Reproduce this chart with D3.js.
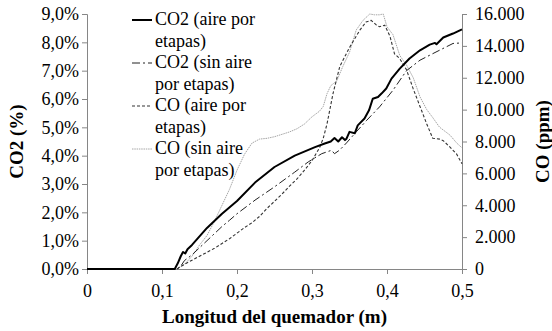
<!DOCTYPE html>
<html>
<head>
<meta charset="utf-8">
<script src="https://cdn.jsdelivr.net/npm/d3@7"></script>
<style>
  html, body { margin: 0; padding: 0; background: #fff; }
  svg { display: block; }
  svg text { font-family: "Liberation Serif", Tinos, "Nimbus Roman", "Times New Roman", Times, "DejaVu Serif", serif !important; fill: #000; }
</style>
</head>
<body>
<svg id="chart" width="552" height="331"></svg>
<script>
// ---------- data ----------
const xTicks = [0, 0.1, 0.2, 0.3, 0.4, 0.5];
const xTickLabels = ["0", "0,1", "0,2", "0,3", "0,4", "0,5"];
const leftTicks = [0, 1, 2, 3, 4, 5, 6, 7, 8, 9];
const leftTickLabels = ["0,0%", "1,0%", "2,0%", "3,0%", "4,0%", "5,0%", "6,0%", "7,0%", "8,0%", "9,0%"];
const rightTicks = [0, 2000, 4000, 6000, 8000, 10000, 12000, 14000, 16000];
const rightTickLabels = ["0", "2.000", "4.000", "6.000", "8.000", "10.000", "12.000", "14.000", "16.000"];

const seriesNames = ["CO2 (aire por etapas)", "CO2 (sin aire por etapas)", "CO (aire por etapas)", "CO (sin aire por etapas)"];

// CO2 (aire por etapas) — % (left axis)
const co2AireX = [0, 0.117, 0.121, 0.125, 0.128, 0.131, 0.134, 0.14, 0.15, 0.16, 0.18, 0.2, 0.224, 0.25, 0.277, 0.304, 0.317, 0.325, 0.33, 0.335, 0.34, 0.344, 0.346, 0.35, 0.357, 0.361, 0.37, 0.376, 0.381, 0.388, 0.393, 0.399, 0.406, 0.417, 0.43, 0.444, 0.457, 0.464, 0.466, 0.475, 0.488, 0.5];
const co2AireY = [0, 0, 0.2, 0.45, 0.6, 0.55, 0.7, 0.85, 1.15, 1.45, 1.95, 2.4, 3.05, 3.6, 4.0, 4.3, 4.43, 4.5, 4.62, 4.5, 4.65, 4.55, 4.6, 4.84, 4.79, 5.07, 5.31, 5.6, 6.01, 6.07, 6.2, 6.37, 6.72, 7.07, 7.43, 7.72, 7.92, 7.98, 7.93, 8.17, 8.31, 8.46];

// CO2 (sin aire por etapas) — % (left axis)
const co2SinX = [0, 0.12, 0.125, 0.13, 0.14, 0.15, 0.16, 0.17, 0.18, 0.19, 0.2, 0.224, 0.25, 0.277, 0.295, 0.313, 0.326, 0.33, 0.337, 0.346, 0.359, 0.373, 0.39, 0.408, 0.426, 0.444, 0.461, 0.479, 0.488, 0.5];
const co2SinY = [0, 0, 0.1, 0.3, 0.5, 0.75, 1.0, 1.25, 1.5, 1.72, 1.95, 2.43, 2.9, 3.42, 3.78, 4.07, 4.19, 4.07, 4.2, 4.45, 4.84, 5.25, 5.72, 6.31, 7.0, 7.37, 7.6, 7.84, 7.96, 7.98];

// CO (aire por etapas) — ppm (right axis)
const coAireX = [0, 0.12, 0.125, 0.13, 0.14, 0.15, 0.16, 0.17, 0.18, 0.19, 0.2, 0.21, 0.22, 0.23, 0.24, 0.25, 0.26, 0.27, 0.28, 0.29, 0.3, 0.305, 0.31, 0.315, 0.32, 0.328, 0.337, 0.35, 0.364, 0.372, 0.379, 0.386, 0.39, 0.397, 0.404, 0.41, 0.417, 0.426, 0.435, 0.444, 0.453, 0.461, 0.47, 0.475, 0.484, 0.493, 0.5];
const coAireY = [0, 0, 150, 300, 550, 800, 1050, 1300, 1600, 1900, 2250, 2600, 2900, 3300, 3800, 4250, 4700, 5200, 5650, 6200, 6800, 7200, 7600, 8200, 9100, 11000, 12700, 13900, 15000, 15500, 15600, 15300, 15200, 15300, 14600, 13500, 13200, 12500, 11300, 10200, 9100, 8200, 8150, 8050, 7650, 7200, 6600];

// CO (sin aire por etapas) — ppm (right axis)
const coSinX = [0, 0.12, 0.13, 0.14, 0.15, 0.16, 0.17, 0.18, 0.19, 0.2, 0.21, 0.22, 0.23, 0.24, 0.25, 0.26, 0.27, 0.28, 0.29, 0.3, 0.31, 0.315, 0.32, 0.325, 0.333, 0.341, 0.35, 0.359, 0.368, 0.377, 0.383, 0.39, 0.395, 0.4, 0.408, 0.417, 0.426, 0.435, 0.444, 0.453, 0.461, 0.47, 0.484, 0.493, 0.5];
const coSinY = [0, 0, 300, 800, 1500, 2100, 3000, 4000, 5000, 6200, 7200, 7900, 8150, 8200, 8300, 8450, 8600, 8800, 9100, 9550, 9900, 10200, 11000, 11500, 11800, 12700, 13600, 15000, 15600, 16000, 15950, 15950, 16000, 15200, 14700, 13400, 12800, 12000, 10800, 10000, 9500, 8900, 8400, 7900, 7600];

// ---------- chart ----------
const FONT = '"Liberation Serif", Tinos, "Nimbus Roman", "Times New Roman", Times, "DejaVu Serif", serif';
const svg = d3.select("#chart");
const margin = { left: 87, right: 90, top: 14, bottom: 62 };
const W = 552, H = 331;
const x = d3.scaleLinear().domain([0, 0.5]).range([margin.left, W - margin.right]);
const yL = d3.scaleLinear().domain([0, 9]).range([H - margin.bottom, margin.top]);
const yR = d3.scaleLinear().domain([0, 16000]).range([H - margin.bottom, margin.top]);

const axisColor = "#868686";
const tickFont = 18;

function styleAxis(g) {
  g.attr("font-family", FONT);
  g.selectAll("path.domain").attr("stroke", axisColor).attr("stroke-width", 1);
  g.selectAll(".tick line").attr("stroke", axisColor).attr("stroke-width", 1);
  g.selectAll(".tick text").attr("font-family", FONT).attr("font-size", tickFont).attr("fill", "#000");
}

// bottom axis
const gx = svg.append("g").attr("transform", `translate(0,${yL(0)})`)
  .call(d3.axisBottom(x).tickValues(xTicks).tickFormat((d, i) => xTickLabels[i]).tickSizeOuter(0).tickSize(5).tickPadding(10));
styleAxis(gx);

// left axis
const gl = svg.append("g").attr("transform", `translate(${x(0)},0)`)
  .call(d3.axisLeft(yL).tickValues(leftTicks).tickFormat((d, i) => leftTickLabels[i]).tickSizeOuter(0).tickSize(5).tickPadding(3));
styleAxis(gl);

// right axis
const gr = svg.append("g").attr("transform", `translate(${x(0.5)},0)`)
  .call(d3.axisRight(yR).tickValues(rightTicks).tickFormat((d, i) => rightTickLabels[i]).tickSizeOuter(0).tickSize(5).tickPadding(8));
styleAxis(gr);

// axis titles
svg.append("text").attr("x", (x(0) + x(0.5)) / 2).attr("y", 323)
  .attr("text-anchor", "middle").attr("font-family", FONT).attr("font-size", 19).attr("font-weight", "bold")
  .text("Longitud del quemador (m)");
svg.append("text").attr("transform", `translate(23,${(yL(0) + yL(9)) / 2}) rotate(-90)`)
  .attr("text-anchor", "middle").attr("font-family", FONT).attr("font-size", 19).attr("font-weight", "bold")
  .text("CO2 (%)");
svg.append("text").attr("transform", `translate(549,${(yL(0) + yL(9)) / 2}) rotate(-90)`)
  .attr("text-anchor", "middle").attr("font-family", FONT).attr("font-size", 19).attr("font-weight", "bold")
  .text("CO (ppm)");

// lines
const styles = [
  { stroke: "#000", width: 2, dash: null },
  { stroke: "#222", width: 1, dash: "8,3,2,3" },
  { stroke: "#333", width: 1.1, dash: "3,2" },
  { stroke: "#a6a6a6", width: 1, dash: "1.5,0.8" }
];
const series = [
  { xs: co2AireX, ys: co2AireY, y: yL },
  { xs: co2SinX, ys: co2SinY, y: yL },
  { xs: coAireX, ys: coAireY, y: yR },
  { xs: coSinX, ys: coSinY, y: yR }
];
const plotOrder = [3, 2, 1, 0];
plotOrder.forEach(i => {
  const s = series[i];
  const pts = s.xs.map((v, k) => [v, s.ys[k]]);
  const line = d3.line().x(d => x(d[0])).y(d => s.y(d[1]));
  svg.append("path").attr("d", line(pts)).attr("fill", "none")
    .attr("stroke", styles[i].stroke).attr("stroke-width", styles[i].width)
    .attr("stroke-dasharray", styles[i].dash).attr("stroke-linejoin", "round");
});

// legend
const legendLines = [["CO2 (aire por", "etapas)"], ["CO2 (sin aire", "por etapas)"], ["CO (aire por", "etapas)"], ["CO (sin aire", "por etapas)"]];
const lg = svg.append("g");
const lh = 21.5;
legendLines.forEach((lines, i) => {
  const base = 25 + i * 2 * lh;
  lg.append("line").attr("x1", 132).attr("x2", 152).attr("y1", base - 5).attr("y2", base - 5)
    .attr("stroke", styles[i].stroke).attr("stroke-width", styles[i].width)
    .attr("stroke-dasharray", styles[i].dash);
  lines.forEach((t, j) => {
    lg.append("text").attr("x", 155).attr("y", base + j * lh).attr("font-family", FONT).attr("font-size", 18).text(t);
  });
});
</script>
</body>
</html>
